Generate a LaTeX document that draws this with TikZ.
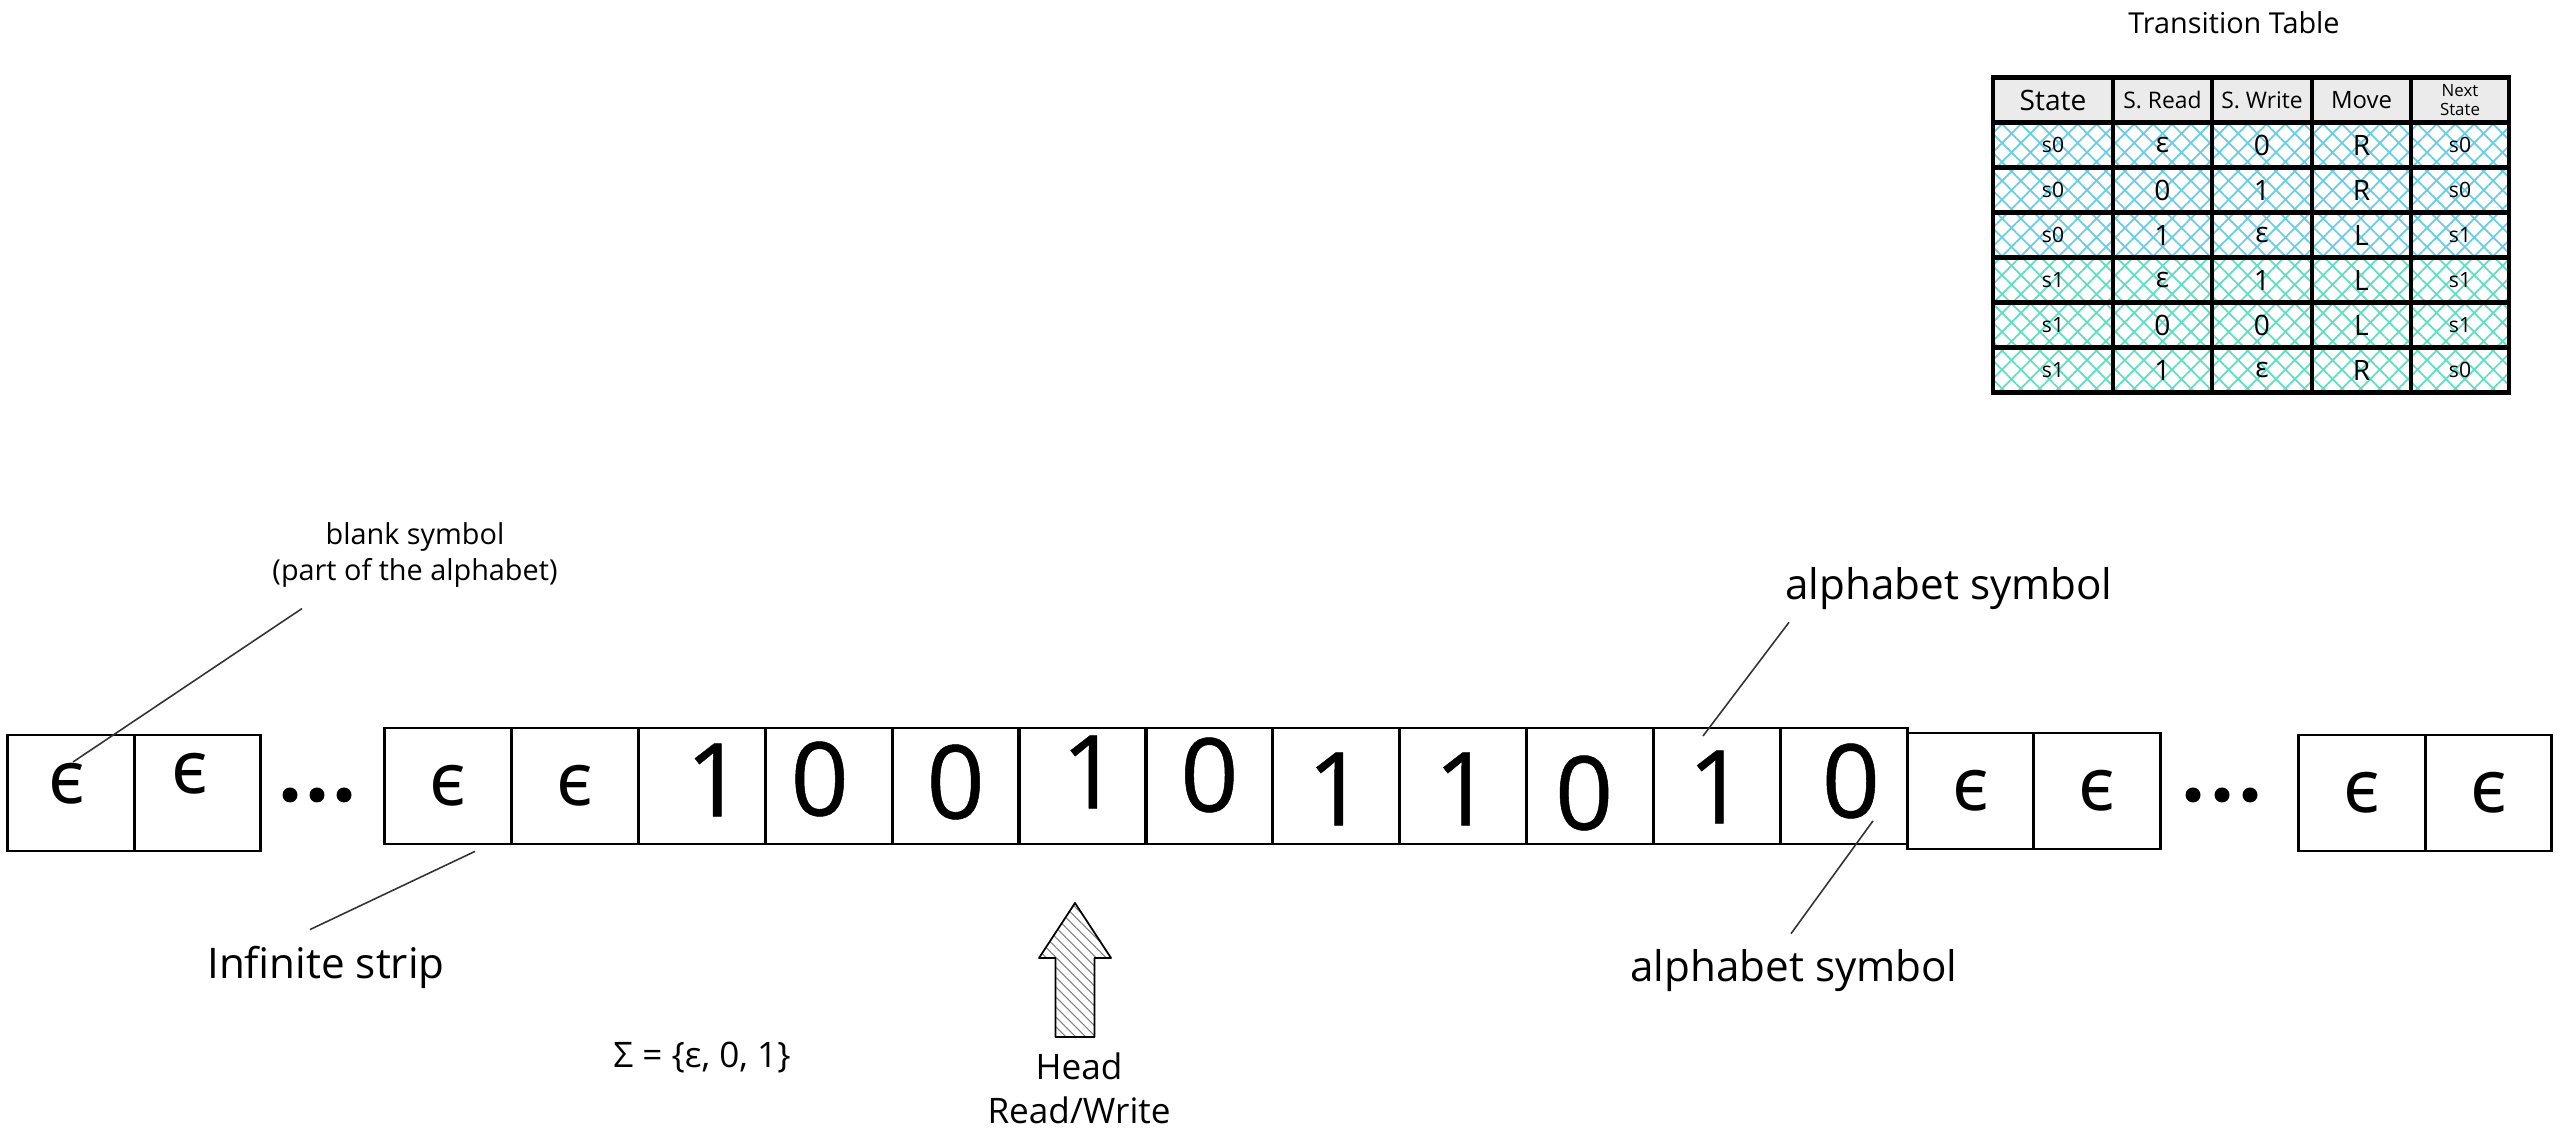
\documentclass[tikz,border=0pt]{standalone}
\usepackage{fontspec}
\setmainfont{Open Sans}
\newfontfamily\lunate{Noto Sans}
\newfontfamily\tapefont{Open Sans}[FakeBold=0.5]
\usepackage{tikz}
\usetikzlibrary{positioning,calc,patterns.meta}

\definecolor{hatchblue}{RGB}{105,205,230}
\definecolor{hatchgreen}{RGB}{95,222,195}

\begin{document}
\begin{tikzpicture}[
    cell/.style={draw, line width=0.8pt, minimum width=1.265cm,
                 minimum height=1.16cm, inner sep=0pt},
    digit/.style={font=\tapefont\fontsize{29}{34}\selectfont, inner sep=0pt},
    blank/.style={font=\lunate\fontsize{21}{25}\selectfont, inner sep=0pt},
    dot/.style={circle, fill=black, inner sep=0pt, minimum size=0.15cm},
    note/.style={font=\fontsize{12}{15}\selectfont, align=center, inner sep=1pt},
    small/.style={font=\fontsize{10}{12.5}\selectfont, align=center, inner sep=1pt},
    tiny/.style={font=\fontsize{8.2}{10.2}\selectfont, align=center, inner sep=1pt},
    pointer/.style={line width=0.45pt, draw=black!80},
    tcell/.style={draw, line width=1.4pt, minimum height=0.45cm,
                  inner sep=0pt, align=center},
    thead/.style={tcell, fill=black!8},
    tbody/.style={tcell, pattern={Hatch[angle=45,distance=3.8pt,line width=0.5pt]}},
  ]
    \useasboundingbox (0,0) rectangle (25.6,11.44);

    % tape: blank cells
    \foreach \nm/\x/\y/\dx/\dy in {c1/0.71/3.51/-0.04/0.09, c2/1.975/3.51/-0.08/0.19,
                                   c3/4.48/3.58/0/0, c4/5.749/3.58/0/0,
                                   c15/19.705/3.53/0/0, c16/20.97/3.53/0/0,
                                   c17/23.62/3.51/0/0, c18/24.885/3.51/0/0} {
      \node[cell] (\nm) at (\x,\y) {};
      \node[blank] (\nm s) at ($(\nm)+(\dx,\dy)$) {ϵ};
    }

    % tape: written cells
    \foreach \nm/\x/\s/\dx/\dy in {c5/7.018/1/0.13/0.06, c6/8.287/0/-0.09/0.07,
                                   c7/9.556/0/0/0.04, c8/10.825/1/0.08/0.14,
                                   c9/12.094/0/0/0.11, c10/13.363/1/0/-0.03,
                                   c11/14.632/1/0/-0.03, c12/15.901/0/-0.06/-0.07,
                                   c13/17.17/1/0/-0.01, c14/18.439/0/0.07/0.05} {
      \node[cell] (\nm) at (\x,3.58) {};
      \node[digit] (\nm s) at ($(\nm)+(\dx,\dy)$) {\s};
    }

    % dots
    \foreach \i/\x in {1/2.90, 2/3.17, 3/3.44, 4/21.93, 5/22.22, 6/22.50}
      \node[dot] (d\i) at (\x,3.49) {};

    % annotations
    \node[tiny] (blanknote) at (4.15,5.89) {blank symbol\\(part of the alphabet)};
    \node[note] (strip) at (3.26,1.77) {Infinite strip};
    \node[note] (alphup) at (19.49,5.55) {alphabet symbol};
    \node[note] (alphdown) at (17.94,1.73) {alphabet symbol};
    \node[small] (sigma) at (7.02,0.86) {Σ = \{ε, 0, 1\}};
    \node[small] (headlbl) at (10.79,0.56) {Head\\Read/Write};

    \coordinate (blankfrom) at ($(blanknote.south)+(-1.13,-0.17)$);
    \coordinate (blankto) at ($(c1.center)+(0.02,0.31)$);
    \coordinate (stripfrom) at ($(strip.north)+(-0.16,0.12)$);
    \coordinate (stripto) at ($(c3.south)+(0.27,-0.06)$);
    \coordinate (upfrom) at ($(alphup.south)+(-1.60,-0.08)$);
    \coordinate (upto) at ($(c13.center)+(-0.14,0.50)$);
    \coordinate (downfrom) at ($(alphdown.north)+(-0.03,0.12)$);
    \coordinate (downto) at ($(c14.center)+(0.29,-0.35)$);
    \draw[pointer] (blankfrom) -- (blankto);
    \draw[pointer] (stripfrom) -- (stripto);
    \draw[pointer] (upfrom) -- (upto);
    \draw[pointer] (downfrom) -- (downto);

    % head
    \coordinate (headtip) at (10.75,2.41);
    \draw[line width=0.5pt, line join=round,
          pattern={Lines[angle=-45,distance=2pt,line width=0.3pt]}, pattern color=black!50]
      (10.555,1.07) -- (10.555,1.86) -- (10.39,1.86) -- (headtip)
      -- (11.11,1.86) -- (10.945,1.86) -- (10.945,1.07) -- cycle;

    % transition table
    \node[tiny] (ttitle) at (22.34,11.21) {Transition Table};
    \node[thead, minimum width=1.20cm, font=\fontsize{8}{9}\selectfont] (h1) at (20.53,10.44) {State};
    \node[thead, minimum width=0.99cm, font=\fontsize{6.5}{8}\selectfont] (h2) at (21.625,10.44) {S. Read};
    \node[thead, minimum width=1.00cm, font=\fontsize{6.5}{8}\selectfont] (h3) at (22.62,10.44) {S. Write};
    \node[thead, minimum width=0.99cm, font=\fontsize{6.8}{8}\selectfont] (h4) at (23.615,10.44) {Move};
    \node[thead, minimum width=0.98cm, font=\fontsize{4.8}{5.4}\selectfont] (h5) at (24.60,10.44) {Next\\State};
    \foreach \r/\hc/\st/\rd/\wr/\mv/\nx in {1/hatchblue/s0/ε/0/R/s0, 2/hatchblue/s0/0/1/R/s0,
        3/hatchblue/s0/1/ε/L/s1, 4/hatchgreen/s1/ε/1/L/s1,
        5/hatchgreen/s1/0/0/L/s1, 6/hatchgreen/s1/1/ε/R/s0} {
      \pgfmathsetmacro\yy{10.44-0.45*\r}
      \node[tbody, pattern color=\hc, minimum width=1.20cm, font=\fontsize{6}{7}\selectfont] (r\r a) at (20.53,\yy) {\st};
      \node[tbody, pattern color=\hc, minimum width=0.99cm, font=\fontsize{8}{9}\selectfont] (r\r b) at (21.625,\yy) {\rd};
      \node[tbody, pattern color=\hc, minimum width=1.00cm, font=\fontsize{8}{9}\selectfont] (r\r c) at (22.62,\yy) {\wr};
      \node[tbody, pattern color=\hc, minimum width=0.99cm, font=\fontsize{8}{9}\selectfont] (r\r d) at (23.615,\yy) {\mv};
      \node[tbody, pattern color=\hc, minimum width=0.98cm, font=\fontsize{6}{7}\selectfont] (r\r e) at (24.60,\yy) {\nx};
    }
  \end{tikzpicture}
\end{document}
